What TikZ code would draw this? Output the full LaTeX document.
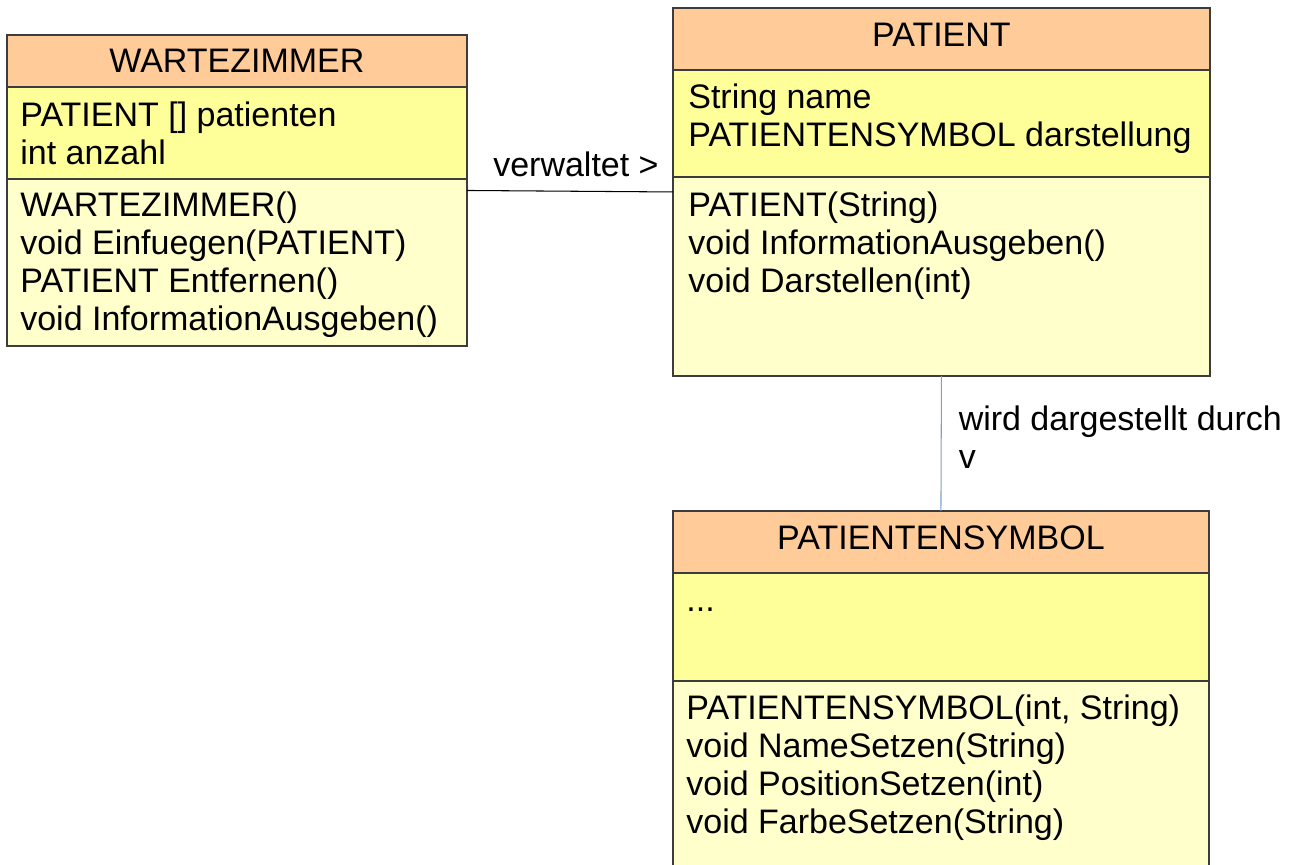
\documentclass[tikz,border=0pt]{standalone}
\usepackage{fontspec}
\setmainfont{Liberation Sans}
\usetikzlibrary{positioning}

\definecolor{kopffarbe}{RGB}{255,204,153}
\definecolor{attrfarbe}{RGB}{255,255,153}
\definecolor{methfarbe}{RGB}{255,255,204}
\definecolor{randfarbe}{RGB}{60,60,60}
\definecolor{blaulinie}{RGB}{128,160,205}

\tikzset{
  kopf/.style={draw=randfarbe, fill=kopffarbe, line width=0.8pt, minimum height=1.24cm, inner sep=0pt, outer sep=0pt},
  attr/.style={draw=randfarbe, fill=attrfarbe, line width=0.8pt, inner sep=0pt, outer sep=0pt},
  meth/.style={draw=randfarbe, fill=methfarbe, line width=0.8pt, inner sep=0pt, outer sep=0pt},
  eintrag/.style={align=left, inner sep=0pt},
  verbindung/.style={draw=black, line width=0.6pt},
  darstellung/.style={draw=blaulinie, line width=0.6pt}
}

\begin{document}
\begin{tikzpicture}[x=0.02cm, y=-0.02cm, font=\fontsize{19.35}{21.6}\selectfont]
    \useasboundingbox (0,0) rectangle (1296,865);
    \clip (0,0) rectangle (1296,865);

    % WARTEZIMMER
    \node[kopf, minimum width=9.2cm, minimum height=1.04cm, anchor=north west] (wzKopf) at (7,35) {WARTEZIMMER};
    \node[attr, minimum width=9.2cm, minimum height=1.84cm, below=0pt of wzKopf] (wzAttr) {};
    \node[meth, minimum width=9.2cm, minimum height=3.34cm, below=0pt of wzAttr] (wzMeth) {};
    \node[eintrag, below right=0.3cm and 0.26cm of wzAttr.north west] (wzAttrText) {PATIENT [] patienten\\int anzahl};
    \node[eintrag, below right=0.26cm and 0.26cm of wzMeth.north west] (wzMethText) {WARTEZIMMER()\\void Einfuegen(PATIENT)\\PATIENT Entfernen()\\void InformationAusgeben()};

    % PATIENT
    \node[kopf, minimum width=10.74cm, text depth=0.16cm, anchor=north west] (pKopf) at (673,8) {PATIENT};
    \node[attr, minimum width=10.74cm, minimum height=2.14cm, below=0pt of pKopf] (pAttr) {};
    \node[meth, minimum width=10.74cm, minimum height=3.98cm, below=0pt of pAttr] (pMeth) {};
    \node[eintrag, below right=0.28cm and 0.3cm of pAttr.north west] (pAttrText) {String name\\PATIENTENSYMBOL darstellung};
    \node[eintrag, below right=0.29cm and 0.3cm of pMeth.north west] (pMethText) {PATIENT(String)\\void InformationAusgeben()\\void Darstellen(int)};

    % PATIENTENSYMBOL
    \node[kopf, minimum width=10.72cm, text depth=0.16cm, anchor=north west] (psKopf) at (673,511) {PATIENTENSYMBOL};
    \node[attr, minimum width=10.72cm, minimum height=2.16cm, below=0pt of psKopf] (psAttr) {};
    \node[meth, minimum width=10.72cm, minimum height=4.4cm, below=0pt of psAttr] (psMeth) {};
    \node[eintrag, below right=0.7cm and 0.26cm of psAttr.north west] (psAttrText) {...};
    \node[eintrag, below right=0.28cm and 0.26cm of psMeth.north west] (psMethText) {PATIENTENSYMBOL(int, String)\\void NameSetzen(String)\\void PositionSetzen(int)\\void FarbeSetzen(String)};

    % Beziehungen
    \draw[verbindung] ([shift={(0,11.5)}]wzMeth.north east) -- ([shift={(0,15)}]pMeth.north west)
        node[midway, above=0.28cm, xshift=0.12cm, inner sep=0pt] (verwaltet) {verwaltet >};
    \draw[darstellung] (pMeth.south) -- (psKopf.north)
        node[pos=0.45, right=0.34cm, eintrag] (dargestellt) {wird dargestellt durch\\v};
\end{tikzpicture}
\end{document}
